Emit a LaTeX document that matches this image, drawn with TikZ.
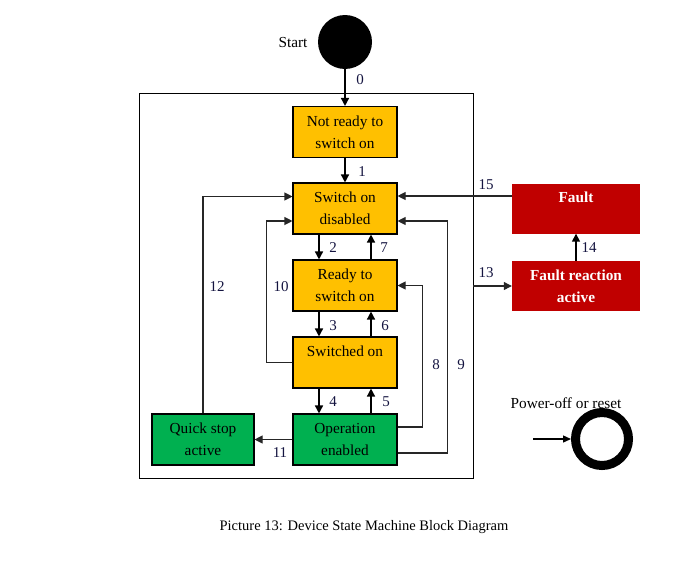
\documentclass[tikz,border=0pt]{standalone}
\usepackage{fontspec}
\setmainfont{Liberation Serif}
\usetikzlibrary{arrows.meta,calc}
\definecolor{stOrange}{HTML}{FFC000}
\definecolor{stGreen}{HTML}{00B050}
\definecolor{stRed}{HTML}{C00000}
\definecolor{numCol}{HTML}{141440}
\tikzset{
  state/.style={draw=black, line width=1.1pt, minimum width=104pt, minimum height=51pt,
    inner sep=0pt, align=center, font=\fontsize{15.3}{22}\selectfont},
  orangebox/.style={state, fill=stOrange},
  greenbox/.style={state, fill=stGreen},
  redbox/.style={draw=none, fill=stRed, minimum width=128pt, minimum height=50pt,
    inner sep=0pt, align=center, text=white, font=\fontsize{15.3}{22}\selectfont\bfseries},
  arr/.style={line width=1.5pt, -{Triangle[length=8pt,width=8pt]}},
  longarr/.style={line width=1.1pt, draw=black!85, -{Triangle[length=8pt,width=8pt]}},
  num/.style={inner sep=0pt, text=numCol, font=\fontsize{15}{18}\selectfont},
  txt/.style={inner sep=0pt, font=\fontsize{15.3}{18}\selectfont},
}
\begin{document}
\begin{tikzpicture}[x=1pt,y=-1pt]
\useasboundingbox (0,0) rectangle (679,562);
% outer frame
\node[draw=black, line width=0.9pt, minimum width=334pt, minimum height=385pt, inner sep=0pt] (frame) at (306,285.5) {};
% start
\node[circle, fill=black, minimum size=54pt, inner sep=0pt] (start) at (345,42) {};
\node[txt] (startlbl) at (293,43) {Start};
% states
\node[orangebox] (nr)  at (345,132)   {Not ready to\\switch on};
\node[orangebox] (sod) at (345,208.5) {Switch on\\disabled};
\node[orangebox] (rts) at (345,285.5) {Ready to\\switch on};
\node[orangebox] (so)  at (345,362.5) {Switched on\\\mbox{}};
\node[greenbox]  (oe)  at (345,439.5) {Operation\\enabled};
\node[greenbox, minimum width=102pt] (qs) at (203,439.5) {Quick stop\\active};
\node[redbox] (fault) at (576,208.5) {Fault\\\mbox{}};
\node[redbox] (fra)   at (576,286)   {Fault reaction\\active};
% transitions
\draw[arr] (start.south) -- (nr.north);
\draw[arr] (nr.south) -- (sod.north);
\draw[arr] ([xshift=-26pt]sod.south) -- ([xshift=-26pt]rts.north);
\draw[arr] ([xshift=26pt]rts.north) -- ([xshift=26pt]sod.south);
\draw[arr] ([xshift=-26pt]rts.south) -- ([xshift=-26pt]so.north);
\draw[arr] ([xshift=26pt]so.north) -- ([xshift=26pt]rts.south);
\draw[arr] ([xshift=-26pt]so.south) -- ([xshift=-26pt]oe.north);
\draw[arr] ([xshift=26pt]oe.north) -- ([xshift=26pt]so.south);
\draw[longarr] (so.west) -- ++(-26,0) |- ([yshift=-12.5pt]sod.west);
\draw[longarr] (qs.north) |- ([yshift=12pt]sod.west);
\draw[longarr] (oe.west) -- (qs.east);
\draw[longarr] ([yshift=12.5pt]oe.east) -- ++(25,0) |- (rts.east);
\draw[longarr] ([yshift=-13.5pt]oe.east) -- ++(50,0) |- ([yshift=-12.5pt]sod.east);
\draw[longarr] ([yshift=12.5pt]fault.west) -- ([yshift=12.5pt]sod.east);
\coordinate (c13) at (frame.east |- fra.west);
\draw[longarr] (c13) -- (fra.west);
\draw[arr] (fra.north) -- (fault.south);
% numbers
\node[num] (n0)  at (360,80)  {0};
\node[num] (n1)  at (362,172) {1};
\node[num] (n2)  at (333,248) {2};
\node[num] (n7)  at (384,248) {7};
\node[num] (n3)  at (333,326) {3};
\node[num] (n6)  at (385,326) {6};
\node[num] (n4)  at (333,402) {4};
\node[num] (n5)  at (386,402) {5};
\node[num] (n10) at (281,287) {10};
\node[num] (n12) at (217,287) {12};
\node[num] (n11) at (280,453) {11};
\node[num] (n8)  at (436,365) {8};
\node[num] (n9)  at (461,365) {9};
\node[num] (n15) at (486,185) {15};
\node[num] (n13) at (486,273) {13};
\node[num] (n14) at (589,248) {14};
% power-off
\node[txt] (pwrlbl) at (566,403) {Power-off or reset};
\node[circle, draw=black, line width=9pt, minimum size=53pt, inner sep=0pt] (ring) at (602,439) {};
\coordinate (pwrin) at (533,439);
\draw[line width=1.3pt, -{Triangle[length=8pt,width=7pt]}] (pwrin) -- (ring.west);
% caption
\node[inner sep=0pt, font=\fontsize{14.5}{16}\selectfont] (caption) at (364,527) {Picture 13: Device State Machine Block Diagram};
\end{tikzpicture}
\end{document}
